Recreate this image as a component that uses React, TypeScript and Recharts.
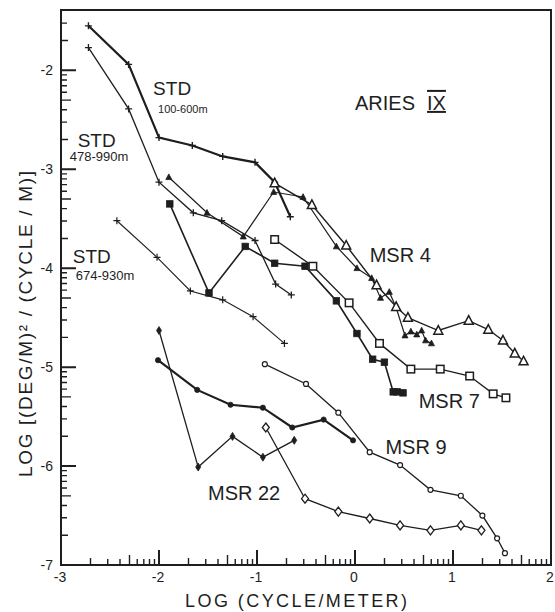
import React from 'react';
import { ScatterChart, Scatter, XAxis, YAxis, ReferenceArea, ReferenceDot } from 'recharts';

if (typeof document !== 'undefined') {
  document.body.style.margin = '0';
}

const INK = '#1e1e1e';
const FONT = '"Liberation Sans", Arial, Helvetica, sans-serif';

type Pt = [number, number];

const std100_600: Pt[] = [
  [-2.72, -1.55], [-2.31, -1.94], [-2.0, -2.68], [-1.66, -2.76], [-1.35, -2.87],
  [-1.02, -2.93], [-0.82, -3.13], [-0.66, -3.48],
];
const std478_990: Pt[] = [
  [-2.72, -1.77], [-2.31, -2.39], [-2.0, -3.13], [-1.65, -3.44], [-1.36, -3.52],
  [-1.02, -3.72], [-0.81, -4.16], [-0.65, -4.27],
];
const std674_930: Pt[] = [
  [-2.43, -3.52], [-2.02, -3.89], [-1.68, -4.23], [-1.35, -4.32], [-1.04, -4.49], [-0.72, -4.76],
];
const msr4Open: Pt[] = [
  [-0.82, -3.14], [-0.44, -3.36], [-0.09, -3.77], [0.22, -4.17], [0.42, -4.39], [0.54, -4.5],
  [0.85, -4.63], [1.16, -4.53], [1.36, -4.62], [1.51, -4.73], [1.63, -4.86], [1.72, -4.94],
];
const msr4Filled: Pt[] = [
  [-1.9, -3.08], [-1.51, -3.44], [-1.14, -3.68], [-0.83, -3.23], [-0.53, -3.28], [-0.19, -3.78],
  [0.02, -4.0], [0.17, -4.1], [0.26, -4.3], [0.35, -4.24], [0.42, -4.4], [0.51, -4.68],
  [0.57, -4.64], [0.63, -4.67], [0.68, -4.63], [0.72, -4.73], [0.78, -4.76],
];
const msr7Open: Pt[] = [
  [-0.82, -3.71], [-0.43, -3.98], [-0.06, -4.35], [0.25, -4.76], [0.57, -5.02], [0.87, -5.02],
  [1.17, -5.09], [1.41, -5.27], [1.54, -5.31],
];
const msr7Filled: Pt[] = [
  [-1.89, -3.35], [-1.49, -4.25], [-1.12, -3.78], [-0.82, -3.95], [-0.51, -3.98], [-0.19, -4.33],
  [0.02, -4.66], [0.18, -4.92], [0.3, -4.95], [0.39, -5.25], [0.43, -5.25], [0.49, -5.26],
];
const msr9: Pt[] = [
  [-0.92, -4.97], [-0.5, -5.17], [-0.17, -5.46], [0.15, -5.86], [0.46, -5.99], [0.77, -6.24],
  [1.08, -6.3], [1.3, -6.5], [1.45, -6.73], [1.53, -6.88],
];
const msr22Circles: Pt[] = [
  [-2.01, -4.93], [-1.61, -5.23], [-1.27, -5.38], [-0.94, -5.41], [-0.64, -5.61], [-0.32, -5.53], [-0.02, -5.74],
];
const msr22FilledDiamonds: Pt[] = [
  [-2.0, -4.63], [-1.6, -6.01], [-1.25, -5.7], [-0.94, -5.91], [-0.62, -5.74],
];
const msr22OpenDiamonds: Pt[] = [
  [-0.91, -5.61], [-0.51, -6.33], [-0.17, -6.46], [0.15, -6.53], [0.46, -6.6], [0.77, -6.65],
  [1.08, -6.6], [1.29, -6.65],
];

const seriesLabels: { x: number; y: number; text: string; size: number }[] = [
  { x: -2.06, y: -2.25, text: 'STD', size: 19 },
  { x: -2.01, y: -2.43, text: '100-600m', size: 11 },
  { x: -2.83, y: -2.77, text: 'STD', size: 19 },
  { x: -2.91, y: -2.92, text: '478-990m', size: 13 },
  { x: -2.88, y: -3.95, text: 'STD', size: 19 },
  { x: -2.85, y: -4.12, text: '674-930m', size: 13 },
  { x: 0.15, y: -3.94, text: 'MSR 4', size: 20 },
  { x: 0.65, y: -5.41, text: 'MSR 7', size: 20 },
  { x: 0.31, y: -5.88, text: 'MSR 9', size: 20 },
  { x: -1.5, y: -6.34, text: 'MSR 22', size: 20 },
];
const titleLabel = { x: 0.0, y: -2.4, text: 'ARIES', numeral: 'IX' };

// tick positions (log10 of 1..9 x decade)
const X_TICKS = [
  -3, -2.699, -2.523, -2.398, -2.301, -2.222, -2.155, -2.097, -2.046,
  -2, -1.699, -1.523, -1.398, -1.301, -1.222, -1.155, -1.097, -1.046,
  -1, -0.699, -0.523, -0.398, -0.301, -0.222, -0.155, -0.097, -0.046,
  0, 0.301, 0.477, 0.602, 0.699, 0.778, 0.845, 0.903, 0.954,
  1, 1.301, 1.477, 1.602, 1.699, 1.778, 1.845, 1.903, 1.954, 2,
];
const Y_TICKS = [
  -7, -6.699, -6.523, -6.398, -6.301, -6.222, -6.155, -6.097, -6.046,
  -6, -5.699, -5.523, -5.398, -5.301, -5.222, -5.155, -5.097, -5.046,
  -5, -4.699, -4.523, -4.398, -4.301, -4.222, -4.155, -4.097, -4.046,
  -4, -3.699, -3.523, -3.398, -3.301, -3.222, -3.155, -3.097, -3.046,
  -3, -2.699, -2.523, -2.398, -2.301, -2.222, -2.155, -2.097, -2.046,
  -2, -1.699, -1.523,
];
const X_DOMAIN: [number, number] = [-3, 2];
const Y_DOMAIN: [number, number] = [-7, -1.39];

const W = 555;
const H = 612;
const MARGIN = { top: 10, right: 4, bottom: 0, left: 0 };

const isMajor = (v: number) => Math.abs(v - Math.round(v)) < 1e-6;
const tickLen = (v: number): number => {
  if (isMajor(v)) return 15;
  const frac = v - Math.floor(v);
  if (Math.abs(frac - 0.699) < 0.01) return 10;
  if (Math.abs(frac - 0.301) < 0.01) return 7;
  return 6;
};

// frame + inward ticks, drawn inside the plot box that the chart scales give the ReferenceArea
const FrameShape = (p: any) => {
  const x0 = Number(p.x);
  const y0 = Number(p.y);
  const w = Number(p.width);
  const h = Number(p.height);
  const sx = (v: number) => x0 + ((v - X_DOMAIN[0]) / (X_DOMAIN[1] - X_DOMAIN[0])) * w;
  const sy = (v: number) => y0 + h - ((v - Y_DOMAIN[0]) / (Y_DOMAIN[1] - Y_DOMAIN[0])) * h;
  const majorD: string[] = [];
  const minorD: string[] = [];
  X_TICKS.forEach((v) => {
    const seg = `M${sx(v)},${y0 + h}V${y0 + h - tickLen(v)}`;
    (isMajor(v) ? majorD : minorD).push(seg);
  });
  Y_TICKS.forEach((v) => {
    const seg = `M${x0},${sy(v)}H${x0 + tickLen(v)}`;
    (isMajor(v) ? majorD : minorD).push(seg);
  });
  return (
    <g>
      <rect x={x0} y={y0} width={w} height={h} fill="none" stroke={INK} strokeWidth={2} />
      <path d={majorD.join('')} stroke={INK} strokeWidth={2} fill="none" />
      <path d={minorD.join('')} stroke={INK} strokeWidth={1.4} fill="none" />
    </g>
  );
};

const XTick = (props: any) => {
  const x = Number(props.x);
  const y = Number(props.y);
  const v = Number(props.payload?.value);
  if (!isMajor(v)) return <g />;
  return (
    <text x={x - 1} y={y + 17} textAnchor="middle" fontSize={14} fontFamily={FONT} fill={INK} stroke="none">
      {String(Math.round(v))}
    </text>
  );
};

const YTick = (props: any) => {
  const x = Number(props.x);
  const y = Number(props.y);
  const v = Number(props.payload?.value);
  if (!isMajor(v)) return <g />;
  return (
    <text x={x - 8} y={y + 5} textAnchor="end" fontSize={14} fontFamily={FONT} fill={INK} stroke="none">
      {String(Math.round(v))}
    </text>
  );
};

const plusShape = (s: number, w: number) => (p: any) => (
  <path d={`M${p.cx - s},${p.cy}H${p.cx + s}M${p.cx},${p.cy - s}V${p.cy + s}`} stroke={INK} strokeWidth={w} fill="none" />
);
const triShape = (s: number, filled: boolean) => (p: any) => (
  <path
    d={`M${p.cx},${p.cy - s * 0.55}L${p.cx + s / 2},${p.cy + s * 0.4}L${p.cx - s / 2},${p.cy + s * 0.4}Z`}
    fill={filled ? INK : '#fff'}
    stroke={INK}
    strokeWidth={filled ? 0.8 : 1.5}
  />
);
const squareShape = (s: number, filled: boolean) => (p: any) => (
  <rect x={p.cx - s / 2} y={p.cy - s / 2} width={s} height={s} fill={filled ? INK : '#fff'} stroke={INK} strokeWidth={filled ? 0.8 : 1.5} />
);
const circleShape = (r: number, filled: boolean) => (p: any) => (
  <circle cx={p.cx} cy={p.cy} r={r} fill={filled ? INK : '#fff'} stroke={INK} strokeWidth={filled ? 0.8 : 1.2} />
);
const diamondShape = (w: number, h: number, filled: boolean) => (p: any) => (
  <path
    d={`M${p.cx},${p.cy - h / 2}L${p.cx + w / 2},${p.cy}L${p.cx},${p.cy + h / 2}L${p.cx - w / 2},${p.cy}Z`}
    fill={filled ? INK : '#fff'}
    stroke={INK}
    strokeWidth={filled ? 0.8 : 1.3}
  />
);

const toData = (pts: Pt[]) => pts.map(([x, y]) => ({ x, y }));

const series = [
  { name: 'STD 100-600m', pts: std100_600, lw: 2.2, shape: plusShape(3.5, 1.4) },
  { name: 'STD 478-990m', pts: std478_990, lw: 1.3, shape: plusShape(3.5, 1.3) },
  { name: 'STD 674-930m', pts: std674_930, lw: 1.1, shape: plusShape(3.5, 1.2) },
  { name: 'MSR 4 filled', pts: msr4Filled, lw: 1.2, shape: triShape(6, true) },
  { name: 'MSR 4 open', pts: msr4Open, lw: 1.4, shape: triShape(9, false) },
  { name: 'MSR 7 filled', pts: msr7Filled, lw: 1.6, shape: squareShape(6.5, true) },
  { name: 'MSR 7 open', pts: msr7Open, lw: 1.4, shape: squareShape(7.5, false) },
  { name: 'MSR 9', pts: msr9, lw: 1.3, shape: circleShape(2.5, false) },
  { name: 'MSR 22 circles', pts: msr22Circles, lw: 2.2, shape: circleShape(2.6, true) },
  { name: 'MSR 22 filled', pts: msr22FilledDiamonds, lw: 1.3, shape: diamondShape(5, 8, true) },
  { name: 'MSR 22 open', pts: msr22OpenDiamonds, lw: 1.3, shape: diamondShape(7, 9, false) },
];

export default function App() {
  return (
    <div style={{ position: 'relative', width: W, height: H, background: '#fff' }}>
      <ScatterChart width={W} height={H} margin={MARGIN}>
        <XAxis
          type="number"
          dataKey="x"
          domain={X_DOMAIN}
          ticks={X_TICKS}
          interval={0}
          allowDataOverflow
          height={47}
          axisLine={false}
          tickLine={false}
          tickSize={0}
          tickMargin={0}
          tick={XTick}
        />
        <YAxis
          type="number"
          dataKey="y"
          domain={Y_DOMAIN}
          ticks={Y_TICKS}
          interval={0}
          allowDataOverflow
          width={61}
          axisLine={false}
          tickLine={false}
          tickSize={0}
          tickMargin={0}
          tick={YTick}
        />
        <ReferenceArea
          x1={X_DOMAIN[0]}
          x2={X_DOMAIN[1]}
          y1={Y_DOMAIN[0]}
          y2={Y_DOMAIN[1]}
          fill="none"
          fillOpacity={0}
          stroke={INK}
          strokeWidth={2}
          shape={FrameShape}
        />
        {series.map((s) => (
          <Scatter
            key={s.name}
            name={s.name}
            data={toData(s.pts)}
            line={{ stroke: INK, strokeWidth: s.lw }}
            lineType="joint"
            shape={s.shape}
            isAnimationActive={false}
          />
        ))}
        {seriesLabels.map((l, i) => (
          <ReferenceDot
            key={`lab-${i}`}
            x={l.x}
            y={l.y}
            r={0}
            ifOverflow="visible"
            shape={(p: any) => (
              <text x={p.cx} y={p.cy} fontSize={l.size} fontFamily={FONT} fill={INK}>
                {l.text}
              </text>
            )}
          />
        ))}
        <ReferenceDot
          x={titleLabel.x}
          y={titleLabel.y}
          r={0}
          ifOverflow="visible"
          shape={(p: any) => (
            <text x={p.cx} y={p.cy} fontSize={20} fontFamily={FONT} fill={INK}>
              {titleLabel.text}
              <tspan dx={12} style={{ textDecoration: 'underline overline' }}>
                {titleLabel.numeral}
              </tspan>
            </text>
          )}
        />
      </ScatterChart>
      <svg width={W} height={H} style={{ position: 'absolute', left: 0, top: 0, pointerEvents: 'none' }}>
        <text x={296} y={607} textAnchor="middle" fontSize={18} fontFamily={FONT} fill={INK} textLength={222} lengthAdjust="spacing">
          LOG  (CYCLE/METER)
        </text>
        <text
          x={32}
          y={324}
          transform="rotate(-90 32 324)"
          textAnchor="middle"
          fontSize={19}
          fontFamily={FONT}
          fill={INK}
          textLength={306}
          lengthAdjust="spacing"
        >
          {'LOG  [(DEG/M)\u00B2 / (CYCLE / M)]'}
        </text>
      </svg>
    </div>
  );
}
